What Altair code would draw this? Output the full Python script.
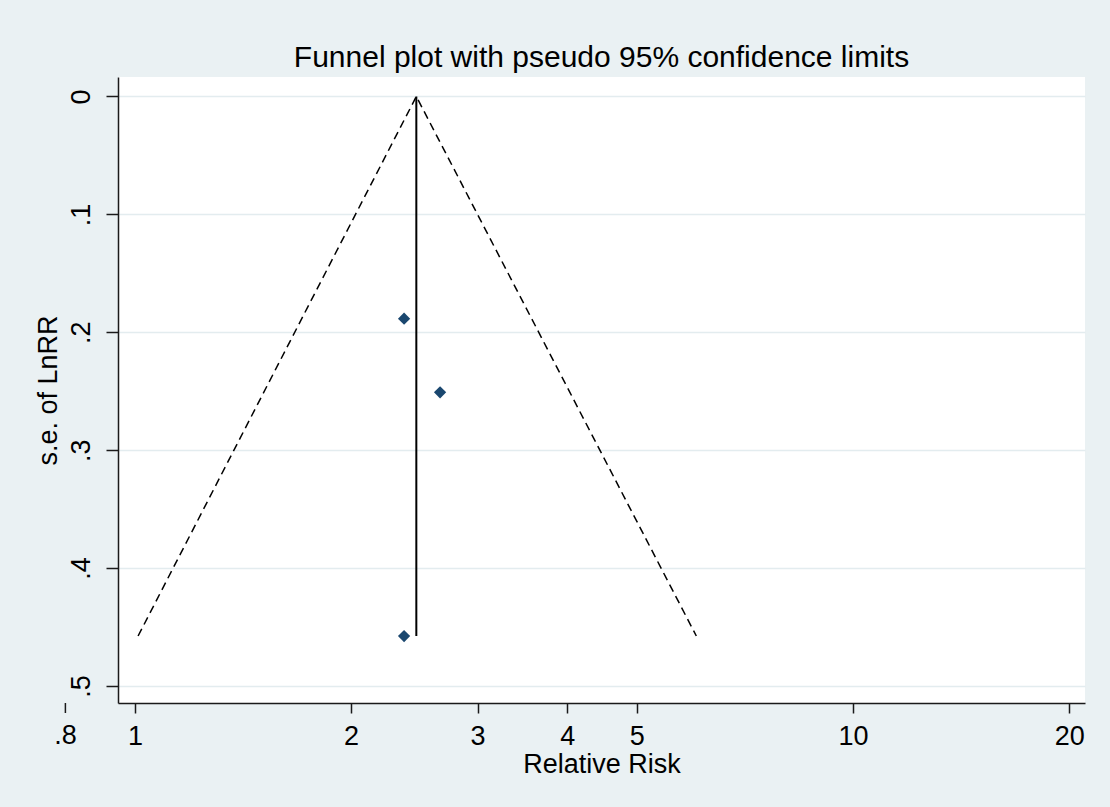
import altair as alt
import pandas as pd

# ---- data ----
study_rr = [2.37, 2.66, 2.37]
study_se = [0.1885, 0.2509, 0.4576]
pooled_rr = [2.465]
pooled_se_top = [0.0]
pooled_se_bottom = [0.4576]
funnel_rr = [1.01, 2.465, 6.05]
funnel_se = [0.4576, 0.0, 0.4576]
funnel_order = [0, 1, 2]
x_ticks = [1, 2, 3, 4, 5, 10, 20]
x_extra_tick = [0.8]
x_extra_label = [".8"]
y_ticks = [0, 0.1, 0.2, 0.3, 0.4, 0.5]
x_domain = [0.947, 21.04]
y_domain = [-0.0165, 0.5144]

W, H = 967, 626
FONT = "Liberation Sans"
BG = "#EAF1F3"
GRID = "#E3ECEF"
AX = "#1a1a1a"

df_pts = pd.DataFrame({"rr": study_rr, "se": study_se})
df_fun = pd.DataFrame({"rr": funnel_rr, "se": funnel_se, "i": funnel_order})
df_v = pd.DataFrame({"rr": pooled_rr, "se": pooled_se_top, "se2": pooled_se_bottom})
df_x = pd.DataFrame({"rr": x_extra_tick, "lab": x_extra_label})

xs = alt.Scale(type="log", domain=x_domain, nice=False)
ys = alt.Scale(domain=y_domain, reverse=True, nice=False, zero=False)

xaxis = alt.Axis(
    values=x_ticks, format="d", grid=False, title="Relative Risk",
    tickSize=10, tickWidth=1.5, tickColor=AX, domainColor=AX, domainWidth=1.5,
    labelPadding=10, labelFontSize=27, labelFont=FONT, labelColor="black",
    labelFlush=False, labelOverlap=False,
    titleFontSize=27, titleFont=FONT, titleFontWeight="normal", titleColor="black",
    titlePadding=2,
)
yaxis = alt.Axis(
    values=y_ticks,
    labelExpr="datum.value == 0 ? '0' : substring(format(datum.value, '.1f'), 1)",
    grid=True, gridColor=GRID, gridWidth=1.5, title="s.e. of LnRR",
    tickSize=12, tickWidth=1.5, tickColor=AX, domainColor=AX, domainWidth=1.5,
    labelAngle=270, labelPadding=11, labelFontSize=27, labelFont=FONT, labelColor="black",
    labelOverlap=False, labelFlush=False,
    titleFontSize=27, titleFont=FONT, titleFontWeight="normal", titleColor="black",
    titlePadding=5,
)

X = alt.X("rr:Q", scale=xs, axis=xaxis)
Y = alt.Y("se:Q", scale=ys, axis=yaxis)

funnel = alt.Chart(df_fun).mark_line(
    color="black", strokeDash=[8, 5], strokeWidth=1.5
).encode(x=X, y=Y, order="i:O")

vline = alt.Chart(df_v).mark_rule(color="black", strokeWidth=2).encode(
    x=X, y=Y, y2="se2:Q"
)

points = alt.Chart(df_pts).mark_point(
    shape="diamond", filled=True, size=150, color="#1A476F", opacity=1
).encode(x=X, y=Y)

extra_tick = alt.Chart(df_x).mark_rule(color=AX, strokeWidth=1.5, clip=False).encode(
    x=X, y=alt.value(H), y2=alt.value(H + 10)
)
extra_label = alt.Chart(df_x).mark_text(
    font=FONT, fontSize=27, baseline="top", color="black", clip=False
).encode(x=X, y=alt.value(H + 20), text="lab:N")

chart = alt.layer(funnel, vline, points, extra_tick, extra_label).properties(
    width=W, height=H,
    padding={"left": 118, "top": 77, "right": 25, "bottom": 104},
    autosize=alt.AutoSizeParams(type="none"),
    background=BG,
    title=alt.Title(
        "Funnel plot with pseudo 95% confidence limits",
        font=FONT, fontSize=30, fontWeight="normal", color="black",
        anchor="middle", offset=4,
    ),
).configure_view(fill="white", stroke=None)

chart.save("out.html", embed_options={"renderer": "svg", "actions": False})
